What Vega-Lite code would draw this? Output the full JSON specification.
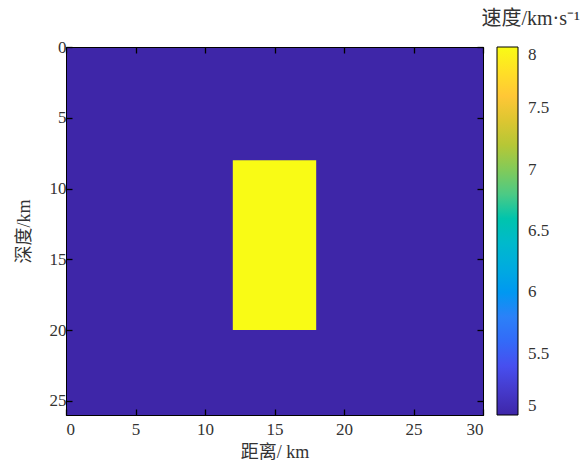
{
  "$schema": "https://vega.github.io/schema/vega-lite/v6.json",
  "width": 417,
  "height": 368,
  "autosize": "none",
  "padding": {"left": 66, "top": 47, "right": 103, "bottom": 56},
  "background": "white",
  "config": {
    "font": "Liberation Serif, Noto Sans CJK SC",
    "view": {"stroke": "black", "strokeWidth": 1},
    "axis": {
      "grid": false,
      "ticks": true,
      "domainColor": "black",
      "tickColor": "black",
      "tickSize": -6,
      "tickWidth": 1.3,
      "labelFontSize": 17,
      "labelColor": "#333",
      "titleFontSize": 18,
      "titleFontWeight": "normal",
      "titleColor": "#333",
      "labelFont": "Liberation Serif",
      "titleFont": "Liberation Serif, Noto Sans CJK SC"
    }
  },
  "title": {
    "text": "速度/km·s⁻¹",
    "anchor": "end",
    "frame": "group",
    "dx": 97,
    "offset": 9,
    "fontSize": 20,
    "fontWeight": "normal",
    "color": "#333",
    "font": "Liberation Serif, Noto Sans CJK SC"
  },
  "data": {
    "values": [
      {"x0": 0, "x1": 30, "d0": 0, "d1": 26, "v": 5},
      {"x0": 12, "x1": 18, "d0": 8, "d1": 20, "v": 8}
    ]
  },
  "layer": [
    {
      "mark": {"type": "rect"},
      "encoding": {
        "x": {
          "field": "x0", "type": "quantitative",
          "scale": {"domain": [0, 30], "nice": false, "zero": false},
          "axis": {"title": "距离/ km", "zindex": 1, "values": [0, 5, 10, 15, 20, 25, 30], "labelPadding": 12, "titlePadding": 6}
        },
        "x2": {"field": "x1"},
        "y": {
          "field": "d0", "type": "quantitative",
          "scale": {"domain": [0, 26], "nice": false, "zero": false, "reverse": true},
          "axis": {"title": "深度/km", "zindex": 1, "values": [0, 5, 10, 15, 20, 25], "labelPadding": 6, "titlePadding": 16}
        },
        "y2": {"field": "d1"},
        "color": {
          "field": "v", "type": "quantitative",
          "scale": {
            "domain": [5, 8],
            "range": ["#3E26A8", "#4752F4", "#2E87F7", "#12B1D6", "#37C897", "#ABC739", "#FEC338", "#F9FB15"]
          },
          "legend": {
            "orient": "none",
            "legendX": 431,
            "legendY": 0,
            "direction": "vertical",
            "title": null,
            "gradientLength": 368,
            "gradientThickness": 21,
            "gradientStrokeColor": "black",
            "gradientStrokeWidth": 1,
            "values": [5, 5.5, 6, 6.5, 7, 7.5, 8],
            "format": "~g",
            "labelFontSize": 17,
            "labelColor": "#333",
            "labelFont": "Liberation Serif",
            "labelOffset": 10,
            "labelOverlap": false
          }
        }
      }
    },
    {
      "mark": {"type": "rect", "opacity": 0},
      "encoding": {
        "x": {
          "field": "x0", "type": "quantitative",
          "axis": {"orient": "top", "zindex": 1, "title": null, "labels": false, "values": [0, 5, 10, 15, 20, 25, 30]}
        },
        "x2": {"field": "x1"},
        "y": {
          "field": "d0", "type": "quantitative",
          "axis": {"orient": "right", "zindex": 1, "title": null, "labels": false, "values": [0, 5, 10, 15, 20, 25]}
        },
        "y2": {"field": "d1"}
      }
    }
  ],
  "resolve": {"axis": {"x": "independent", "y": "independent"}}
}
